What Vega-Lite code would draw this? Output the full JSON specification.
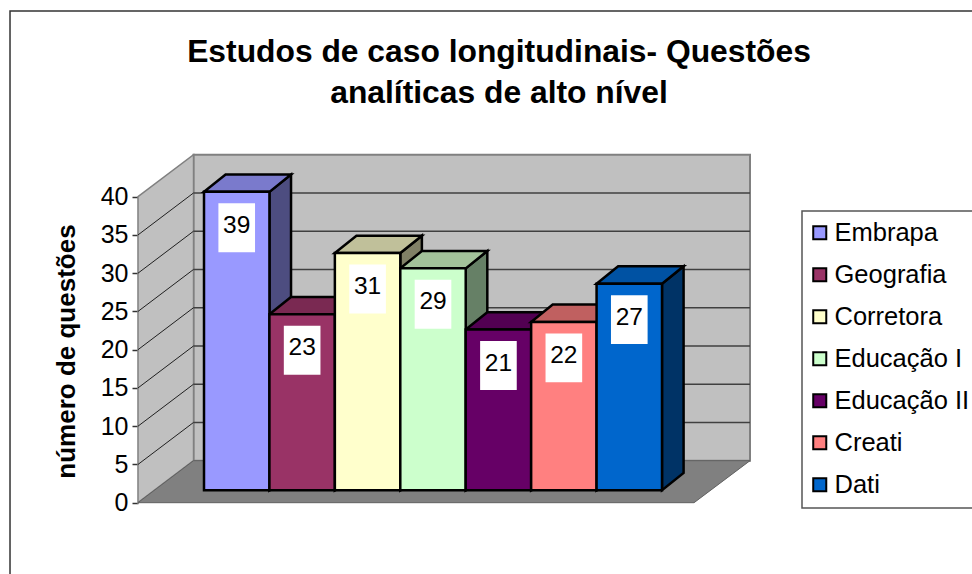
{
"$schema":"https://vega.github.io/schema/vega-lite/v6.json",
"width":972,"height":574,"padding":0,"autosize":"none","background":"white",
"title":{"text":["Estudos de caso longitudinais- Questões","analíticas de alto nível"],"font":"Liberation Sans","fontSize":31.8,"fontWeight":"bold","color":"black","anchor":"middle","frame":"group","lineHeight":41,"baseline":"alphabetic","offset":-71,"dx":13,"dy":64},
"config":{"view":{"stroke":null},"font":"Liberation Sans","legend":{"strokeWidth":1.5}},
"datasets":{
"bars":[{"serie":"Embrapa","ordem":0,"valor":39},{"serie":"Geografia","ordem":1,"valor":23},{"serie":"Corretora","ordem":2,"valor":31},{"serie":"Educação I","ordem":3,"valor":29},{"serie":"Educação II","ordem":4,"valor":21},{"serie":"Creati","ordem":5,"valor":22},{"serie":"Dati","ordem":6,"valor":27}],
"grid":[{"v":0},{"v":5},{"v":10},{"v":15},{"v":20},{"v":25},{"v":30},{"v":35},{"v":40}],
"depth":[{"d":0},{"d":1}]
},
"data":{"name":"bars"},
"layer":[
{"data":{"values":[{"a":1}]},"mark":{"type":"rect","filled":false,"stroke":"#333333","strokeWidth":1.5},
 "encoding":{"x":{"datum":-2.965,"type":"quantitative","scale":{"domain":[-3.118,11.738],"nice":false,"zero":false},"axis":null},"x2":{"datum":13},
 "y":{"datum":64.27,"type":"quantitative","scale":{"domain":[-9.32,65.71],"nice":false,"zero":false},
  "axis":{"values":[0,5,10,15,20,25,30,35,40],"offset":-138,"domain":false,"grid":false,"tickColor":"#333333","tickSize":6,"tickWidth":1.5,"labelColor":"black","labelFont":"Liberation Sans","labelFontSize":25,"labelPadding":4,"title":"número de questões","titleFont":"Liberation Sans","titleFontSize":26,"titleFontWeight":"bold","titleColor":"black","titleX":-59,"titleY":351,"titleAnchor":"middle"}},"y2":{"datum":-12}}},
{"data":{"values":[{"a":1}]},"mark":{"type":"rect","fill":"#C0C0C0","stroke":"#808080","strokeWidth":2},
 "encoding":{"x":{"datum":-0.16,"type":"quantitative","scale":{"domain":[-3.118,11.738],"nice":false,"zero":false},"axis":null},"x2":{"datum":8.345},
 "y":{"datum":5.49,"type":"quantitative","scale":{"domain":[-9.32,65.71],"nice":false,"zero":false},"axis":null},"y2":{"datum":45.49}}},
{"data":{"name":"depth"},"transform":[{"calculate":"-1.009+datum.d*0.849","as":"x"},{"calculate":"datum.d*5.49","as":"yb"},{"calculate":"40+datum.d*5.49","as":"yt"}],
 "mark":{"type":"area","orient":"vertical","fill":"#C0C0C0","stroke":"#808080","strokeWidth":1.5},
 "encoding":{"x":{"field":"x","type":"quantitative","scale":{"domain":[-3.118,11.738],"nice":false,"zero":false},"axis":null},
 "y":{"field":"yt","type":"quantitative","stack":null,"scale":{"domain":[-9.32,65.71],"nice":false,"zero":false},"axis":null},"y2":{"field":"yb"}}},
{"data":{"name":"depth"},"transform":[{"calculate":"-1.009+datum.d*0.849","as":"x"},{"calculate":"7.49+datum.d*0.855","as":"x2"},{"calculate":"datum.d*5.49","as":"y"}],
 "mark":{"type":"area","orient":"horizontal","fill":"#808080","stroke":"#606060","strokeWidth":1},
 "encoding":{"x":{"field":"x","type":"quantitative","stack":null,"scale":{"domain":[-3.118,11.738],"nice":false,"zero":false},"axis":null},"x2":{"field":"x2"},
 "y":{"field":"y","type":"quantitative","scale":{"domain":[-9.32,65.71],"nice":false,"zero":false},"axis":null}}},
{"data":{"name":"grid"},"transform":[{"filter":"datum.v>0 && datum.v<40"},{"calculate":"datum.v+5.49","as":"yb"}],
 "mark":{"type":"rule","color":"#404040","strokeWidth":1.5},
 "encoding":{"x":{"datum":-0.16,"type":"quantitative","scale":{"domain":[-3.118,11.738],"nice":false,"zero":false},"axis":null},"x2":{"datum":8.345},
 "y":{"field":"yb","type":"quantitative","scale":{"domain":[-9.32,65.71],"nice":false,"zero":false},"axis":null}}},
{"data":{"name":"grid"},"transform":[{"filter":"datum.v>0 && datum.v<40"},{"calculate":"datum.v+5.49","as":"yb"}],
 "mark":{"type":"rule","color":"#202020","strokeWidth":1},
 "encoding":{"x":{"datum":-1.009,"type":"quantitative","scale":{"domain":[-3.118,11.738],"nice":false,"zero":false},"axis":null},"x2":{"datum":-0.16},
 "y":{"field":"v","type":"quantitative","scale":{"domain":[-9.32,65.71],"nice":false,"zero":false},"axis":null},"y2":{"field":"yb"}}},
{"transform":[{"calculate":"[0,1]","as":"t"},{"flatten":["t"]},{"calculate":"datum.ordem+1+datum.t*0.33","as":"x"},{"calculate":"datum.valor+1.63+datum.t*2.27","as":"yt"},{"calculate":"1.63+datum.t*2.27","as":"yb"}],
 "mark":{"type":"area","orient":"vertical","stroke":"black","strokeWidth":2.5,"opacity":1},
 "encoding":{"x":{"field":"x","type":"quantitative","scale":{"domain":[-3.118,11.738],"nice":false,"zero":false},"axis":null},
 "y":{"field":"yt","type":"quantitative","stack":null,"scale":{"domain":[-9.32,65.71],"nice":false,"zero":false},"axis":null},"y2":{"field":"yb"},
 "color":{"field":"serie","type":"nominal","legend":null,"scale":{"domain":["Embrapa","Geografia","Corretora","Educação I","Educação II","Creati","Dati"],"range":["#4D4D80","#4D1A33","#808066","#668066","#330033","#804040","#003366"]}}}},
{"transform":[{"calculate":"[0,1]","as":"t"},{"flatten":["t"]},{"calculate":"datum.ordem+datum.t*0.33","as":"x"},{"calculate":"datum.ordem+1+datum.t*0.33","as":"x2"},{"calculate":"datum.valor+1.63+datum.t*2.27","as":"y"}],
 "mark":{"type":"area","orient":"horizontal","stroke":"black","strokeWidth":2.5,"opacity":1},
 "encoding":{"x":{"field":"x","type":"quantitative","stack":null,"scale":{"domain":[-3.118,11.738],"nice":false,"zero":false},"axis":null},"x2":{"field":"x2"},
 "y":{"field":"y","type":"quantitative","scale":{"domain":[-9.32,65.71],"nice":false,"zero":false},"axis":null},
 "color":{"field":"serie","type":"nominal","legend":null,"scale":{"domain":["Embrapa","Geografia","Corretora","Educação I","Educação II","Creati","Dati"],"range":["#7A7ACC","#7A2952","#C0C09A","#A3C29A","#520052","#C06060","#0052A3"]}}}},
{"transform":[{"calculate":"datum.ordem+1","as":"x2"},{"calculate":"datum.valor+1.63","as":"yt"},{"calculate":"1.63","as":"yb"}],
 "mark":{"type":"rect","stroke":"black","strokeWidth":2.5,"opacity":1},
 "encoding":{"x":{"field":"ordem","type":"quantitative","scale":{"domain":[-3.118,11.738],"nice":false,"zero":false},"axis":null},"x2":{"field":"x2"},
 "y":{"field":"yt","type":"quantitative","scale":{"domain":[-9.32,65.71],"nice":false,"zero":false},"axis":null},"y2":{"field":"yb"},
 "color":{"field":"serie","type":"nominal","scale":{"domain":["Embrapa","Geografia","Corretora","Educação I","Educação II","Creati","Dati"],"range":["#9999FF","#993366","#FFFFCC","#CCFFCC","#660066","#FF8080","#0066CC"]},
  "legend":{"title":null,"orient":"none","legendX":802,"legendY":211,"padding":9,"strokeColor":"#555555","fillColor":"white","symbolType":"square","symbolSize":170,"symbolStrokeColor":"black","symbolStrokeWidth":2,"symbolOpacity":1,"symbolOffset":-4,"labelFont":"Liberation Sans","labelFontSize":25.5,"labelColor":"black","rowPadding":15,"labelOffset":2,"labelLimit":300,"columnPadding":0}}}},
{"transform":[{"calculate":"datum.ordem+0.22","as":"x"},{"calculate":"datum.ordem+0.78","as":"x2"},{"calculate":"datum.valor+1.63-1.5","as":"yt"},{"calculate":"datum.valor+1.63-1.5-6.4","as":"yb"}],
 "mark":{"type":"rect","fill":"white"},
 "encoding":{"x":{"field":"x","type":"quantitative","scale":{"domain":[-3.118,11.738],"nice":false,"zero":false},"axis":null},"x2":{"field":"x2"},
 "y":{"field":"yt","type":"quantitative","scale":{"domain":[-9.32,65.71],"nice":false,"zero":false},"axis":null},"y2":{"field":"yb"}}},
{"transform":[{"calculate":"datum.ordem+0.5","as":"x"},{"calculate":"datum.valor+1.63-1.5-3.2","as":"y"}],
 "mark":{"type":"text","font":"Liberation Sans","fontSize":24.5,"color":"black","baseline":"middle","align":"center","dy":-2},
 "encoding":{"x":{"field":"x","type":"quantitative","scale":{"domain":[-3.118,11.738],"nice":false,"zero":false},"axis":null},
 "y":{"field":"y","type":"quantitative","scale":{"domain":[-9.32,65.71],"nice":false,"zero":false},"axis":null},
 "text":{"field":"valor","type":"quantitative"}}}
],
"resolve":{"scale":{"color":"independent"},"axis":{"y":"independent"}}
}
